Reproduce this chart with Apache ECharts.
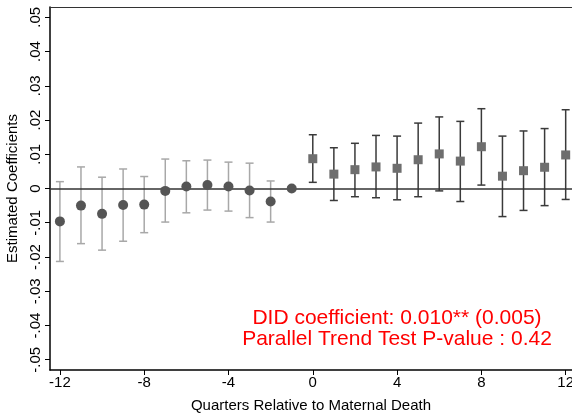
<!DOCTYPE html>
<html>
<head>
<meta charset="utf-8">
<script src="https://cdn.jsdelivr.net/npm/echarts@6/dist/echarts.min.js"></script>
<style>
html, body { margin: 0; padding: 0; background: #fff; }
#main { width: 572px; height: 413px; }
</style>
</head>
<body>
<div id="main"></div>
<script>
// pre-period (circles), quarter -1 is the reference
const preQuarters = [-12, -11, -10, -9, -8, -7, -6, -5, -4, -3, -2, -1];
const preCoef = [-0.0096, -0.0050, -0.0074, -0.0048, -0.0047, -0.0007, 0.0006, 0.0010, 0.0006, -0.0006, -0.0038, 0];
const preLow = [-0.0213, -0.0161, -0.0180, -0.0154, -0.0129, -0.0098, -0.0071, -0.0063, -0.0066, -0.0085, -0.0098, null];
const preHigh = [0.0020, 0.0063, 0.0033, 0.0057, 0.0035, 0.0086, 0.0081, 0.0083, 0.0077, 0.0074, 0.0022, null];

// post-period (squares)
const postQuarters = [0, 1, 2, 3, 4, 5, 6, 7, 8, 9, 10, 11, 12];
const postCoef = [0.0087, 0.0042, 0.0055, 0.0063, 0.0059, 0.0084, 0.0101, 0.0080, 0.0122, 0.0036, 0.0052, 0.0062, 0.0098];
const postLow = [0.0018, -0.0035, -0.0024, -0.0027, -0.0033, -0.0024, -0.0007, -0.0038, 0.0010, -0.0082, -0.0064, -0.0050, -0.0032];
const postHigh = [0.0157, 0.0119, 0.0132, 0.0155, 0.0153, 0.0191, 0.0209, 0.0196, 0.0233, 0.0153, 0.0168, 0.0175, 0.0230];

const xTicks = [-12, -8, -4, 0, 4, 8, 12];
const yTicks = [-0.05, -0.04, -0.03, -0.02, -0.01, 0, 0.01, 0.02, 0.03, 0.04, 0.05];

const annoLines = ['DID coefficient: 0.010** (0.005)', 'Parallel Trend Test P-value : 0.42'];

const font = '"Liberation Sans", Arial, Helvetica, sans-serif';

function ciData(qs, lo, hi) {
  const out = [];
  for (let i = 0; i < qs.length; i++) {
    if (lo[i] != null && hi[i] != null) out.push([qs[i], lo[i], hi[i]]);
  }
  return out;
}

function errorBar(color) {
  return function (params, api) {
    const top = api.coord([api.value(0), api.value(2)]);
    const bot = api.coord([api.value(0), api.value(1)]);
    const w = 4;
    const style = { stroke: color, lineWidth: 1.5 };
    return {
      type: 'group',
      children: [
        { type: 'line', shape: { x1: top[0], y1: top[1], x2: bot[0], y2: bot[1] }, style: style },
        { type: 'line', shape: { x1: top[0] - w, y1: top[1], x2: top[0] + w, y2: top[1] }, style: style },
        { type: 'line', shape: { x1: bot[0] - w, y1: bot[1], x2: bot[0] + w, y2: bot[1] }, style: style }
      ]
    };
  };
}

function pairs(qs, vs) {
  return qs.map(function (q, i) { return [q, vs[i]]; });
}

const chart = echarts.init(document.getElementById('main'));
chart.setOption({
  animation: false,
  backgroundColor: '#fff',
  textStyle: { fontFamily: font },
  grid: { left: 50, right: 0, top: 7, bottom: 43, containLabel: false, outerBoundsMode: 'none' },
  xAxis: [
    {
      type: 'value',
      min: -12.47, max: 12.3,
      name: 'Quarters Relative to Maternal Death',
      nameLocation: 'middle',
      nameGap: 28,
      nameTextStyle: { color: '#000', fontSize: 15, fontFamily: font },
      axisLine: { show: true, onZero: false, lineStyle: { color: '#000', width: 1.5 } },
      axisTick: { show: true, inside: false, length: 5, customValues: xTicks, lineStyle: { color: '#000' } },
      axisLabel: { customValues: xTicks, color: '#000', fontSize: 15, margin: 5, fontFamily: font, hideOverlap: false },
      splitLine: { show: false }
    },
    {
      // top frame line
      type: 'value',
      position: 'top',
      min: -12.47, max: 12.3,
      axisLine: { show: true, onZero: false, lineStyle: { color: '#333', width: 1 } },
      axisTick: { show: false },
      axisLabel: { show: false },
      splitLine: { show: false }
    }
  ],
  yAxis: {
    type: 'value',
    min: -0.053, max: 0.053,
    name: 'Estimated Coefficients',
    nameLocation: 'middle',
    nameGap: 23,
    nameTextStyle: { color: '#000', fontSize: 15, fontFamily: font },
    axisLine: { show: true, onZero: false, lineStyle: { color: '#000', width: 1.5 } },
    axisTick: { show: true, inside: false, length: 5, customValues: yTicks, lineStyle: { color: '#000' } },
    axisLabel: {
      customValues: yTicks,
      rotate: 90,
      color: '#000', fontSize: 15, margin: 7, fontFamily: font,
      formatter: function (v) {
        if (Math.abs(v) < 1e-9) return '0';
        return v.toFixed(2).replace('0.', '.');
      }
    },
    splitLine: { show: false }
  },
  series: [
    {
      type: 'line',
      data: [],
      silent: true,
      markLine: {
        silent: true,
        symbol: 'none',
        label: { show: false },
        lineStyle: { color: '#333', width: 1.5, type: 'solid' },
        data: [{ yAxis: 0 }]
      }
    },
    {
      type: 'custom',
      renderItem: errorBar('#a8a8a8'),
      data: ciData(preQuarters, preLow, preHigh),
      z: 3
    },
    {
      type: 'custom',
      renderItem: errorBar('#3a3a3a'),
      data: ciData(postQuarters, postLow, postHigh),
      z: 3
    },
    {
      type: 'scatter',
      symbol: 'circle',
      symbolSize: 10,
      itemStyle: { color: '#555', opacity: 1 },
      data: pairs(preQuarters, preCoef),
      z: 5
    },
    {
      type: 'scatter',
      symbol: 'rect',
      symbolSize: 9,
      itemStyle: { color: '#6e6e6e', opacity: 1 },
      data: pairs(postQuarters, postCoef),
      z: 5
    }
  ],
  graphic: annoLines.map(function (t, i) {
    return {
      type: 'text',
      x: 397, y: 318 + i * 21,
      style: {
        text: t,
        fill: '#ff0000',
        font: '21px ' + font,
        textAlign: 'center',
        textVerticalAlign: 'middle'
      }
    };
  })
});
</script>
</body>
</html>
